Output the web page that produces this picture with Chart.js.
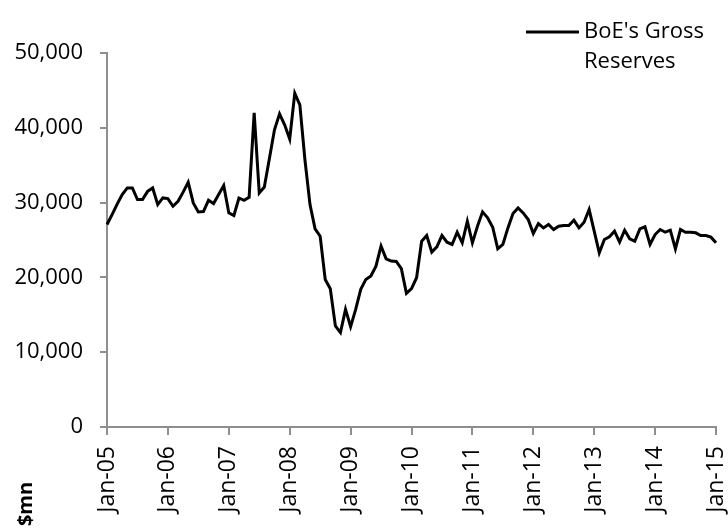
<!DOCTYPE html>
<html>
<head>
<meta charset="utf-8">
<script src="https://cdn.jsdelivr.net/npm/chart.js@4"></script>
<style>
  html, body { margin: 0; padding: 0; background: #fff; }
  #wrap { width: 728px; height: 532px; }
</style>
</head>
<body>
<div id="wrap"><canvas id="cv"></canvas></div>
<script>
// month names and years used to build the category axis
var monthNames = ["Jan", "Feb", "Mar", "Apr", "May", "Jun", "Jul", "Aug", "Sep", "Oct", "Nov", "Dec"];
var years = ["05", "06", "07", "08", "09", "10", "11", "12", "13", "14", "15"];

// BoE's gross reserves, $mn, monthly Jan-05 .. Jan-15
var reserves = [
  27070, 28400, 29800, 31070, 31960, 31960, 30400, 30400, 31500, 31960, 29730, 30620,
  30530, 29510, 30180, 31400, 32710, 29960, 28760, 28800, 30310, 29870, 31070, 32270,
  28630, 28270, 30620, 30310, 30710, 42000, 31290, 32090, 35900, 39730, 41870, 40400,
  38490, 44620, 43070, 35730, 29730, 26490, 25510, 19730, 18490, 13510, 12620, 15730,
  13420, 15730, 18400, 19730, 20180, 21510, 24180, 22490, 22180, 22130, 21160, 17870,
  18490, 19960, 24840, 25600, 23380, 24090, 25600, 24710, 24400, 26040, 24620, 27510,
  24620, 26840, 28760, 27960, 26710, 23820, 24400, 26620, 28530, 29290, 28620, 27730,
  25870, 27200, 26620, 27070, 26400, 26840, 26930, 26930, 27640, 26620, 27380, 29070,
  26180, 23290, 25070, 25420, 26180, 24710, 26310, 25160, 24840, 26490, 26760, 24400,
  25730, 26400, 26040, 26310, 23820, 26400, 26040, 26040, 25960, 25600, 25600, 25380,
  24620
];

var yTicks = [0, 10000, 20000, 30000, 40000, 50000];
var seriesName = "BoE's Gross Reserves";
var legendLines = ["BoE's Gross", "Reserves"];
var unitLabel = "$mn";

// build labels Jan-05 ... Jan-15
var labels = [];
years.forEach(function (yr, i) {
  monthNames.forEach(function (m) {
    if (i < years.length - 1 || m === "Jan") labels.push(m + "-" + yr);
  });
});

var axisGrey = "#8f8f8f";
var fontFamily = "'Open Sans', 'Noto Sans', sans-serif";

// draws the wrapped legend and the $mn unit label
var extrasPlugin = {
  id: "extras",
  afterDraw: function (chart) {
    var ctx = chart.ctx;
    ctx.save();
    // legend sample line
    ctx.strokeStyle = "#000";
    ctx.lineWidth = 3;
    ctx.beginPath();
    ctx.moveTo(526, 32);
    ctx.lineTo(579, 32);
    ctx.stroke();
    ctx.fillStyle = "#000";
    ctx.font = "22px " + fontFamily;
    ctx.textAlign = "left";
    ctx.textBaseline = "middle";
    ctx.fillText(legendLines[0], 584, 32);
    ctx.fillText(legendLines[1], 584, 62);
    // unit label, rotated
    ctx.translate(26, 504);
    ctx.rotate(-Math.PI / 2);
    ctx.font = "bold 20px " + fontFamily;
    ctx.textAlign = "center";
    ctx.fillText(unitLabel, 0, 0);
    ctx.restore();
  }
};

var ctx = document.getElementById("cv").getContext("2d");
new Chart(ctx, {
  type: "line",
  data: {
    labels: labels,
    datasets: [{
      label: seriesName,
      data: reserves,
      borderColor: "#000",
      borderWidth: 3,
      pointRadius: 0,
      tension: 0,
      fill: false
    }]
  },
  options: {
    responsive: true,
    maintainAspectRatio: false,
    animation: false,
    layout: { padding: { top: 53, right: 0, left: 0, bottom: 0 } },
    plugins: {
      legend: { display: false },
      tooltip: { enabled: false }
    },
    scales: {
      x: {
        type: "category",
        offset: false,
        afterFit: function (scale) {
          scale.height = 105;
          scale.paddingLeft = 0;
          scale.paddingRight = 12;
        },
        border: { color: axisGrey, width: 2 },
        grid: {
          drawOnChartArea: false,
          drawTicks: true,
          tickLength: 8,
          lineWidth: 2,
          color: function (c) {
            var lab = labels[c.index];
            return lab && lab.indexOf("Jan") === 0 ? axisGrey : "rgba(0,0,0,0)";
          }
        },
        ticks: {
          autoSkip: false,
          maxRotation: 90,
          minRotation: 90,
          padding: 11,
          color: "#000",
          font: { family: fontFamily, size: 23 },
          callback: function (v, i) {
            var lab = labels[i];
            return lab.indexOf("Jan") === 0 ? lab : "";
          }
        }
      },
      y: {
        min: 0,
        max: 50000,
        afterFit: function (scale) { scale.width = 107; },
        afterBuildTicks: function (scale) {
          scale.ticks = yTicks.map(function (v) { return { value: v }; });
        },
        border: { color: axisGrey, width: 2 },
        grid: {
          drawOnChartArea: false,
          tickLength: 7,
          lineWidth: 2,
          color: axisGrey
        },
        ticks: {
          padding: 17,
          color: "#000",
          font: { family: fontFamily, size: 22 },
          callback: function (v) { return v.toLocaleString("en-US"); }
        }
      }
    }
  },
  plugins: [extrasPlugin]
});
</script>
</body>
</html>
